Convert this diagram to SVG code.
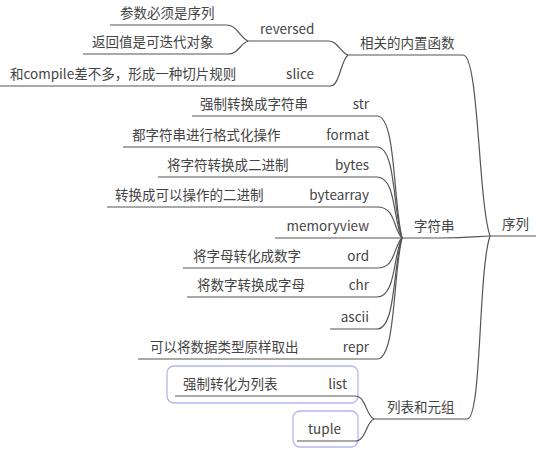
<svg xmlns="http://www.w3.org/2000/svg" width="537" height="449" viewBox="0 0 537 449">
<style>
text{font-family:"Noto Sans CJK SC","Noto Sans",sans-serif;font-size:13.5px;fill:#444}
.e{text-anchor:end}
.u{stroke:#555;stroke-width:1.2;fill:none}
.c{stroke:#555;stroke-width:1.2;fill:none}
.box{fill:#fff;stroke:#b3b7ee;stroke-width:1.3}
</style>
<rect width="537" height="449" fill="#fff"/>
<g id="boxes">
<rect class="box" x="167" y="366" width="191" height="37" rx="7"/>
<rect class="box" x="293" y="411" width="65" height="36" rx="7"/>
</g>
<g id="connectors">
<path class="c" d="M463,55 C479,55 478,200 490,236"/>
<path class="c" d="M467,419 C482,419 478,272 490,236"/>
<path class="c" d="M440,238 C470,238 480,236 490,236"/>
<path class="c" d="M328,41 C338,41 340,52 348,55"/>
<path class="c" d="M330,86 C340,86 340,62 348,55"/>
<path class="c" d="M227,25 C237,25 240,38 248,41"/>
<path class="c" d="M228,54 C238,54 240,44 248,41"/>
<path class="c" d="M377,116 C396,116 393,201 402,238"/>
<path class="c" d="M377,147 C396,147 393,211 402,238"/>
<path class="c" d="M377,177 C396,177 393,220 402,238"/>
<path class="c" d="M377,207 C396,207 393,229 402,238"/>
<path class="c" d="M377,268 C396,268 393,247 402,238"/>
<path class="c" d="M377,297 C396,297 393,256 402,238"/>
<path class="c" d="M377,329 C396,329 393,265 402,238"/>
<path class="c" d="M377,359 C396,359 393,274 402,238"/>
<path class="c" d="M355,396 C366,396 366,416 374,419"/>
<path class="c" d="M355,441 C366,441 366,422 374,419"/>
</g>
<g id="n-root"><text x="502" y="229">序列</text><path class="u" d="M490,236H536"/></g>
<g id="n-builtin"><text x="360" y="48">相关的内置函数</text><path class="u" d="M348,55H463"/></g>
<g id="n-string"><text x="414" y="231">字符串</text><path class="u" d="M402,238H440"/></g>
<g id="n-listtuple"><text x="387" y="412">列表和元组</text><path class="u" d="M374,419H467"/></g>
<g id="n-reversed"><text x="260" y="34">reversed</text><path class="u" d="M248,41H328"/></g>
<g id="n-rev1"><text x="120" y="18">参数必须是序列</text><path class="u" d="M110,25H227"/></g>
<g id="n-rev2"><text x="92" y="47">返回值是可迭代对象</text><path class="u" d="M83,54H228"/></g>
<g id="n-slice"><text x="314" y="79" class="e">slice</text><path class="u" d="M240,86H330"/></g>
<g id="n-slice1"><text x="10" y="79">和compile差不多，形成一种切片规则</text><path class="u" d="M0,86H240"/></g>
<g id="n-str"><text x="369" y="109" class="e">str</text><path class="u" d="M320,116H377"/></g>
<g id="n-str1"><text x="200" y="109">强制转换成字符串</text><path class="u" d="M192,116H320"/></g>
<g id="n-format"><text x="369" y="140" class="e">format</text><path class="u" d="M300,147H377"/></g>
<g id="n-format1"><text x="132" y="140">都字符串进行格式化操作</text><path class="u" d="M123,147H300"/></g>
<g id="n-bytes"><text x="369" y="170" class="e">bytes</text><path class="u" d="M310,177H377"/></g>
<g id="n-bytes1"><text x="167" y="170">将字符转换成二进制</text><path class="u" d="M158,177H310"/></g>
<g id="n-bytearray"><text x="369" y="200" class="e">bytearray</text><path class="u" d="M290,207H377"/></g>
<g id="n-bytearray1"><text x="115" y="200">转换成可以操作的二进制</text><path class="u" d="M107,207H290"/></g>
<g id="n-memoryview"><text x="369" y="231" class="e">memoryview</text><path class="u" d="M275,238H402"/></g>
<g id="n-ord"><text x="369" y="261" class="e">ord</text><path class="u" d="M320,268H377"/></g>
<g id="n-ord1"><text x="193" y="261">将字母转化成数字</text><path class="u" d="M183,268H320"/></g>
<g id="n-chr"><text x="369" y="290" class="e">chr</text><path class="u" d="M320,297H377"/></g>
<g id="n-chr1"><text x="197" y="290">将数字转换成字母</text><path class="u" d="M187,297H320"/></g>
<g id="n-ascii"><text x="369" y="322" class="e">ascii</text><path class="u" d="M330,329H377"/></g>
<g id="n-repr"><text x="369" y="352" class="e">repr</text><path class="u" d="M320,359H377"/></g>
<g id="n-repr1"><text x="150" y="352">可以将数据类型原样取出</text><path class="u" d="M138,359H320"/></g>
<g id="n-list"><text x="347" y="389" class="e">list</text><path class="u" d="M300,396H355"/></g>
<g id="n-list1"><text x="183" y="389">强制转化为列表</text><path class="u" d="M175,396H300"/></g>
<g id="n-tuple"><text x="308" y="434">tuple</text><path class="u" d="M297,441H355"/></g>
</svg>
